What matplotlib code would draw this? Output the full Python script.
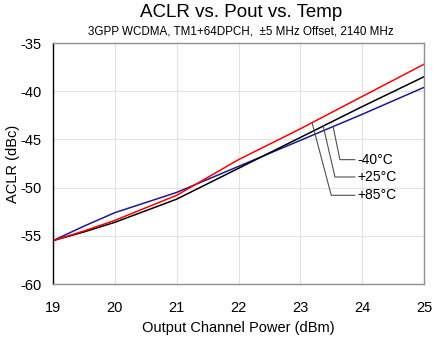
import numpy as np
import matplotlib.pyplot as plt

plt.rcParams["font.family"] = ["Liberation Sans", "DejaVu Sans"]
plt.rcParams["axes.unicode_minus"] = False

# ACLR (dBc) against output channel power (dBm), one series per temperature
pout = [19.0, 19.5, 20.0, 21.0, 22.0, 23.0, 24.0, 25.0]
aclr_m40 = [-55.5, -54.0, -52.6, -50.5, -47.8, -45.1, -42.4, -39.6]
aclr_p25 = [-55.5, -54.6, -53.6, -51.2, -48.0, -44.8, -41.6, -38.5]
aclr_p85 = [-55.5, -54.5, -53.4, -50.8, -47.1, -43.9, -40.55, -37.2]

labels = ["-40°C", "+25°C", "+85°C"]
colors = ["#1a1a96", "#000000", "#ff0000"]

fig = plt.figure(figsize=(4.36, 3.42), dpi=100)
ax = fig.add_axes([53 / 436, 58 / 342, 371 / 436, 241 / 342])

series = [aclr_m40, aclr_p25, aclr_p85]
for vals, c in zip(series, colors):
    ax.plot(pout, vals, color=c, lw=1.1)

# leader lines from each curve to its label
hit_x = [23.53, 23.37, 23.19]
elbow = [(23.64, -47.1), (23.56, -48.9), (23.50, -50.8)]
for vals, hx, (ex, ey), lab in zip(series, hit_x, elbow, labels):
    hy = np.interp(hx, pout, vals)
    ax.plot([hx, ex, 23.88], [hy, ey, ey], color="#505050", lw=0.8)
    ax.text(23.93, ey, lab, fontsize=10, va="center", ha="left")

ax.set_xlim(19, 25)
ax.set_ylim(-60, -35)
ax.set_xticks(range(19, 26))
ax.set_yticks(range(-60, -34, 5))
ax.grid(True, color="#e2e2e2", lw=0.8)
ax.set_axisbelow(True)
ax.tick_params(length=0, labelsize=10.5)
ax.tick_params(axis="x", pad=12.5)
ax.tick_params(axis="y", pad=8)

for side in ["top", "right", "bottom"]:
    ax.spines[side].set_color("#909090")
ax.spines["left"].set_color("black")
for s in ax.spines.values():
    s.set_linewidth(1.0)

ax.set_xlabel("Output Channel Power (dBm)", fontsize=10.5, labelpad=4)
ax.set_ylabel("ACLR (dBc)", fontsize=10.5)
ax.yaxis.set_label_coords(-0.088, 0.5)

fig.text(0.553, 0.962, "ACLR vs. Pout vs. Temp", fontsize=13.5, ha="center", va="center")
fig.text(0.553, 0.908, "3GPP WCDMA, TM1+64DPCH,  ±5 MHz Offset, 2140 MHz",
         fontsize=8.4, ha="center", va="center")

fig.savefig("out.png", dpi=100)
